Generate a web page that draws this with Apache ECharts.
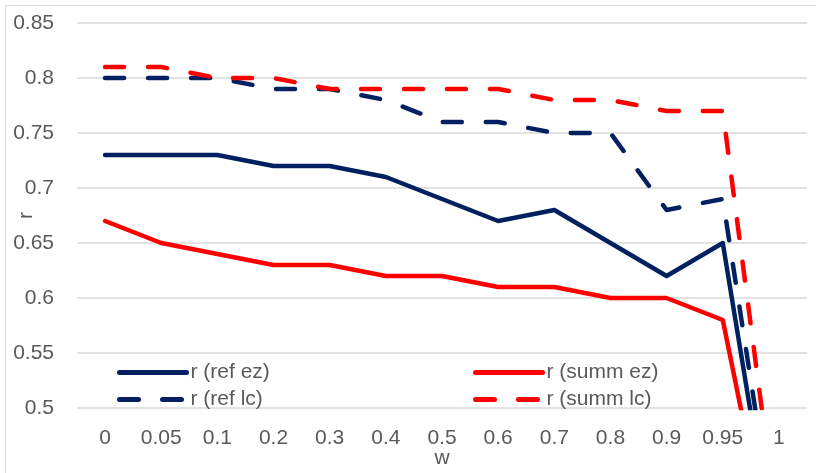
<!DOCTYPE html>
<html>
<head>
<meta charset="utf-8">
<script src="https://cdn.jsdelivr.net/npm/echarts@6/dist/echarts.min.js"></script>
<style>
  html, body { margin: 0; padding: 0; background: #ffffff; }
  #chart { width: 816px; height: 473px; }
</style>
</head>
<body>
<div id="chart"></div>
<script>
// Weight w on the x axis (categorical steps)
const wValues = ['0', '0.05', '0.1', '0.2', '0.3', '0.4', '0.5', '0.6', '0.7', '0.8', '0.9', '0.95', '1'];

// Correlation r for each configuration
const refEz  = [0.73, 0.73, 0.73, 0.72, 0.72, 0.71, 0.69, 0.67, 0.68, 0.65, 0.62, 0.65, 0.34];
const summEz = [0.67, 0.65, 0.64, 0.63, 0.63, 0.62, 0.62, 0.61, 0.61, 0.60, 0.60, 0.58, 0.33];
const refLc  = [0.80, 0.80, 0.80, 0.79, 0.79, 0.78, 0.76, 0.76, 0.75, 0.75, 0.68, 0.69, 0.36];
const summLc = [0.81, 0.81, 0.80, 0.80, 0.79, 0.79, 0.79, 0.79, 0.78, 0.78, 0.77, 0.77, 0.38];

const NAVY = '#002060';
const RED = '#ff0000';
const TEXT = '#595959';
const FONT = 'Liberation Sans';
const FONT_SIZE = 21;

function lineSeries(name, data, color, dashed) {
  return {
    name: name,
    type: 'line',
    data: data,
    symbol: 'none',
    clip: true,
    lineStyle: {
      color: color,
      width: 4.5,
      type: dashed ? [19, 24] : 'solid',
      cap: 'round',
      join: 'round'
    },
    itemStyle: { color: color }
  };
}

const legendBase = {
  orient: 'vertical',
  top: 357,
  itemWidth: 67,
  itemHeight: 14,
  itemGap: 6,
  // line-only keys: the marker dot is made transparent
  itemStyle: { opacity: 0 },
  lineStyle: { width: 5, cap: 'round' },
  textStyle: { color: TEXT, fontSize: FONT_SIZE, fontFamily: FONT, padding: [0, 0, 0, -1] }
};

const chart = echarts.init(document.getElementById('chart'));
chart.setOption({
  animation: false,
  backgroundColor: '#ffffff',
  graphic: [{
    type: 'rect',
    shape: { x: 5.5, y: 5.5, width: 840, height: 500 },
    style: { fill: 'none', stroke: '#d9d9d9', lineWidth: 1 }
  }],
  grid: { left: 77, right: 9, top: 23, bottom: 65, outerBoundsMode: 'none' },
  legend: [
    Object.assign({}, legendBase, { left: 112, data: ['r (ref ez)', 'r (ref lc)'] }),
    Object.assign({}, legendBase, { left: 468, data: ['r (summ ez)', 'r (summ lc)'] })
  ],
  xAxis: {
    type: 'category',
    data: wValues,
    boundaryGap: true,
    name: 'w',
    nameLocation: 'middle',
    nameGap: 40,
    nameMoveOverlap: false,
    nameTextStyle: { color: TEXT, fontSize: FONT_SIZE, fontFamily: FONT },
    axisLine: { show: false },
    axisTick: { show: false },
    axisLabel: { color: TEXT, fontSize: FONT_SIZE, fontFamily: FONT, margin: 20 }
  },
  yAxis: {
    type: 'value',
    min: 0.5,
    max: 0.85,
    interval: 0.05,
    name: 'r',
    nameLocation: 'middle',
    nameGap: 40,
    nameRotate: 90,
    nameMoveOverlap: false,
    nameTextStyle: { color: TEXT, fontSize: FONT_SIZE, fontFamily: FONT },
    axisLine: { show: false },
    axisTick: { show: false },
    axisLabel: {
      color: TEXT, fontSize: FONT_SIZE, fontFamily: FONT, margin: 23,
      formatter: v => String(parseFloat(v.toFixed(2)))
    },
    splitLine: { lineStyle: { color: '#d9d9d9', width: 1.5 } }
  },
  series: [
    lineSeries('r (ref ez)', refEz, NAVY, false),
    lineSeries('r (ref lc)', refLc, NAVY, true),
    lineSeries('r (summ ez)', summEz, RED, false),
    lineSeries('r (summ lc)', summLc, RED, true)
  ]
});
</script>
</body>
</html>
